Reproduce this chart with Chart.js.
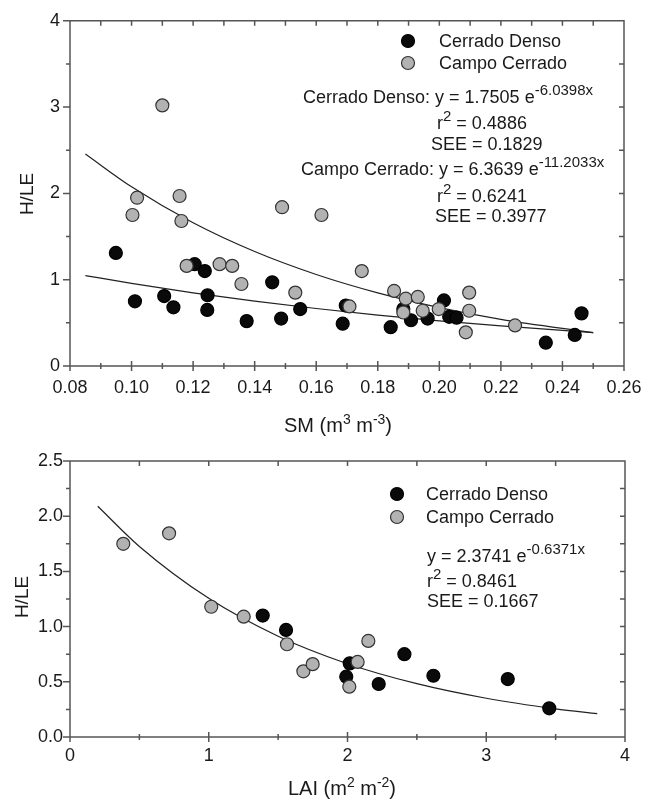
<!DOCTYPE html>
<html lang="pt">
<head>
<meta charset="UTF-8">
<title>H/LE vs SM e LAI</title>
<script src="https://cdn.jsdelivr.net/npm/chart.js"></script>
<style>
    body { margin: 0; background: #fff; }
    canvas { position: absolute; left: 0; }
    #smChart { top: 0; }
    #laiChart { top: 440px; }
</style>
</head>
<body>
<canvas id="smChart" width="659" height="440"></canvas>
<canvas id="laiChart" width="659" height="362"></canvas>

<script>
// ---- painel superior: H/LE vs SM ----
const denseSM  = [0.0949, 0.1011, 0.1106, 0.1136, 0.1205, 0.1238, 0.1247, 0.1246, 0.1374, 0.1457, 0.1486, 0.1548,
                  0.1696, 0.1686, 0.1842, 0.1883, 0.1908, 0.1962, 0.2015, 0.2032, 0.2056, 0.2346, 0.2440, 0.2462];
const denseHLE = [1.31, 0.75, 0.81, 0.68, 1.18, 1.10, 0.82, 0.65, 0.52, 0.97, 0.55, 0.66,
                  0.70, 0.49, 0.45, 0.66, 0.53, 0.55, 0.76, 0.57, 0.56, 0.27, 0.36, 0.61];
const campoSM  = [0.1100, 0.1018, 0.1003, 0.1156, 0.1162, 0.1489, 0.1617, 0.1179, 0.1286, 0.1327, 0.1357, 0.1532,
                  0.1748, 0.1853, 0.1891, 0.1930, 0.1883, 0.1946, 0.1998, 0.2097, 0.2097, 0.2086, 0.2246, 0.1708];
const campoHLE = [3.02, 1.95, 1.75, 1.97, 1.68, 1.84, 1.75, 1.16, 1.18, 1.16, 0.95, 0.85,
                  1.10, 0.87, 0.78, 0.80, 0.62, 0.64, 0.66, 0.85, 0.64, 0.39, 0.47, 0.69];
// curvas ajustadas
const smCurveX    = [0.085, 0.10, 0.12, 0.14, 0.16, 0.18, 0.20, 0.22, 0.25];
const denseCurveY = [1.048, 0.957, 0.848, 0.751, 0.666, 0.590, 0.523, 0.464, 0.387];
const campoCurveY = [2.456, 2.076, 1.659, 1.326, 1.060, 0.847, 0.677, 0.541, 0.387];

// ---- painel inferior: H/LE vs LAI ----
const denseLAI    = [1.389, 1.557, 2.41, 2.016, 1.991, 2.225, 2.619, 3.155, 3.454];
const denseHLE2   = [1.10, 0.97, 0.75, 0.667, 0.546, 0.48, 0.555, 0.525, 0.26];
const campoLAI    = [0.384, 0.714, 1.018, 1.252, 1.564, 1.682, 1.749, 2.15, 2.073, 2.013];
const campoHLE2   = [1.75, 1.845, 1.18, 1.09, 0.84, 0.595, 0.66, 0.87, 0.68, 0.456];
const laiCurveX   = [0.2, 0.5, 1.0, 1.5, 2.0, 2.5, 3.0, 3.5, 3.8];
const laiCurveY   = [2.090, 1.726, 1.256, 0.913, 0.664, 0.483, 0.351, 0.255, 0.211];

const FONT = '"Liberation Sans", Arial, Helvetica, sans-serif';
const INK = '#1a1a1a';
const AXIS = '#555';

const pts = (xs, ys) => xs.map((x, i) => ({ x: x, y: ys[i] }));

function rich(ctx, parts, x, y, size, supSize, align) {
    let w = 0;
    parts.forEach(p => {
        ctx.font = (p.sup ? supSize : size) + 'px ' + FONT;
        w += ctx.measureText(p.t).width;
    });
    let cx = align === 'center' ? x - w / 2 : x;
    ctx.textAlign = 'left';
    ctx.textBaseline = 'alphabetic';
    parts.forEach(p => {
        ctx.font = (p.sup ? supSize : size) + 'px ' + FONT;
        ctx.fillText(p.t, cx, p.sup ? y - size * 0.42 : y);
        cx += ctx.measureText(p.t).width;
    });
}

// moldura, marcas de escala, titulos, legenda e equacoes
const framePlugin = {
    id: 'frame',
    afterDraw(chart, args, o) {
        const { ctx, chartArea: a, scales: { x, y } } = chart;
        ctx.save();
        ctx.strokeStyle = AXIS;
        ctx.lineWidth = 1.5;
        ctx.beginPath();
        ctx.rect(a.left, a.top, a.right - a.left, a.bottom - a.top);
        const nx = Math.round((x.max - x.min) / o.xMinor);
        for (let i = 0; i <= nx; i++) {
            const px = x.getPixelForValue(x.min + i * o.xMinor);
            const h = i % o.xEvery === 0 ? 5 : 3;
            ctx.moveTo(px, a.bottom - h); ctx.lineTo(px, a.bottom + h);
            ctx.moveTo(px, a.top); ctx.lineTo(px, a.top + 5);
        }
        const ny = Math.round((y.max - y.min) / o.yMinor);
        for (let i = 0; i <= ny; i++) {
            const py = y.getPixelForValue(y.min + i * o.yMinor);
            const w = i % o.yEvery === 0 ? 7 : 4;
            ctx.moveTo(a.left - w, py); ctx.lineTo(a.left, py);
            ctx.moveTo(a.right - 5, py); ctx.lineTo(a.right, py);
        }
        ctx.stroke();

        ctx.fillStyle = INK;
        rich(ctx, o.xTitle, o.xTitleX, o.xTitleY, 20, 14, 'center');
        ctx.save();
        ctx.translate(o.yTitleX, o.yTitleY);
        ctx.rotate(-Math.PI / 2);
        ctx.font = '19px ' + FONT;
        ctx.textAlign = 'center';
        ctx.textBaseline = 'middle';
        ctx.fillText('H/LE', 0, 0);
        ctx.restore();

        // legenda
        o.legend.forEach(it => {
            const ds = chart.data.datasets[it.ds];
            ctx.beginPath();
            ctx.arc(o.legX, it.y, 6.5, 0, Math.PI * 2);
            ctx.fillStyle = ds.backgroundColor;
            ctx.fill();
            ctx.lineWidth = 1.2;
            ctx.strokeStyle = ds.borderColor;
            ctx.stroke();
            ctx.fillStyle = INK;
            ctx.font = '18px ' + FONT;
            ctx.textAlign = 'left';
            ctx.textBaseline = 'alphabetic';
            ctx.fillText(ds.label, o.legTextX, it.y + 6);
        });

        o.notes.forEach(n => rich(ctx, n.parts, n.x, n.y, 18, 15, 'left'));
        ctx.restore();
    }
};

function scatterSet(label, data, fill, edge, order) {
    return {
        label: label, data: data, order: order,
        backgroundColor: fill, borderColor: edge, borderWidth: 1.2,
        pointRadius: 6.5, pointHoverRadius: 6.5, showLine: false
    };
}

function curveSet(data) {
    return {
        label: 'fit', data: data, order: 3, showLine: true,
        borderColor: '#222', borderWidth: 1.2, pointRadius: 0,
        cubicInterpolationMode: 'monotone', fill: false
    };
}

function tickFont() { return { family: FONT, size: 18 }; }

function makeChart(id, cfg) {
    return new Chart(document.getElementById(id), {
        type: 'scatter',
        data: { datasets: cfg.datasets },
        options: {
            responsive: false,
            animation: false,
            devicePixelRatio: 1,
            layout: { padding: cfg.padding },
            plugins: { legend: { display: false }, tooltip: { enabled: false }, frame: cfg.frame },
            scales: {
                x: {
                    type: 'linear', min: cfg.xMin, max: cfg.xMax,
                    afterFit: s => { s.height = cfg.xHeight; },
                    grid: { display: false, drawTicks: false }, border: { display: false },
                    ticks: { stepSize: cfg.xStep, autoSkip: false, maxRotation: 0, padding: cfg.xPad,
                             color: INK, font: tickFont(), callback: cfg.xFmt }
                },
                y: {
                    type: 'linear', min: cfg.yMin, max: cfg.yMax,
                    afterFit: s => { s.width = 70; },
                    grid: { display: false, drawTicks: false }, border: { display: false },
                    ticks: { stepSize: cfg.yStep, autoSkip: false, padding: cfg.yPad,
                             color: INK, font: tickFont(), callback: cfg.yFmt }
                }
            }
        },
        plugins: [framePlugin]
    });
}

makeChart('smChart', {
    datasets: [
        scatterSet('Cerrado Denso', pts(denseSM, denseHLE), '#0a0a0a', '#000', 1),
        scatterSet('Campo Cerrado', pts(campoSM, campoHLE), '#b2b2b2', '#333', 0),
        curveSet(pts(smCurveX, denseCurveY)),
        curveSet(pts(smCurveX, campoCurveY))
    ],
    padding: { top: 18, right: 35, left: 0, bottom: 0 },
    xMin: 0.08, xMax: 0.26, xStep: 0.02, xHeight: 74, xPad: 11,
    yMin: 0, yMax: 4, yStep: 1, yPad: 10,
    xFmt: v => v.toFixed(2), yFmt: v => String(v),
    frame: {
        xMinor: 0.01, xEvery: 2, yMinor: 0.5, yEvery: 2,
        xTitle: [{ t: 'SM (m' }, { t: '3', sup: true }, { t: ' m' }, { t: '-3', sup: true }, { t: ')' }],
        xTitleX: 338, xTitleY: 432, yTitleX: 28, yTitleY: 194,
        legX: 408, legTextX: 439,
        legend: [{ ds: 0, y: 41 }, { ds: 1, y: 63 }],
        notes: [
            { x: 303, y: 103, parts: [{ t: 'Cerrado Denso: y = 1.7505 e' }, { t: '-6.0398x', sup: true }] },
            { x: 437, y: 129, parts: [{ t: 'r' }, { t: '2', sup: true }, { t: ' = 0.4886' }] },
            { x: 431, y: 150, parts: [{ t: 'SEE = 0.1829' }] },
            { x: 301, y: 175, parts: [{ t: 'Campo Cerrado: y = 6.3639 e' }, { t: '-11.2033x', sup: true }] },
            { x: 437, y: 202, parts: [{ t: 'r' }, { t: '2', sup: true }, { t: ' = 0.6241' }] },
            { x: 435, y: 222, parts: [{ t: 'SEE = 0.3977' }] }
        ]
    }
});

makeChart('laiChart', {
    datasets: [
        scatterSet('Cerrado Denso', pts(denseLAI, denseHLE2), '#0a0a0a', '#000', 1),
        scatterSet('Campo Cerrado', pts(campoLAI, campoHLE2), '#b2b2b2', '#333', 0),
        curveSet(pts(laiCurveX, laiCurveY))
    ],
    padding: { top: 21, right: 34, left: 0, bottom: 0 },
    xMin: 0, xMax: 4, xStep: 1, xHeight: 65, xPad: 8,
    yMin: 0, yMax: 2.5, yStep: 0.5, yPad: 7,
    xFmt: v => String(v), yFmt: v => v.toFixed(1),
    frame: {
        xMinor: 0.5, xEvery: 2, yMinor: 0.25, yEvery: 2,
        xTitle: [{ t: 'LAI (m' }, { t: '2', sup: true }, { t: ' m' }, { t: '-2', sup: true }, { t: ')' }],
        xTitleX: 342, xTitleY: 355, yTitleX: 23, yTitleY: 157,
        legX: 397, legTextX: 426,
        legend: [{ ds: 0, y: 54 }, { ds: 1, y: 77 }],
        notes: [
            { x: 427, y: 122, parts: [{ t: 'y = 2.3741 e' }, { t: '-0.6371x', sup: true }] },
            { x: 427, y: 147, parts: [{ t: 'r' }, { t: '2', sup: true }, { t: ' = 0.8461' }] },
            { x: 427, y: 167, parts: [{ t: 'SEE = 0.1667' }] }
        ]
    }
});
</script>
</body>
</html>
